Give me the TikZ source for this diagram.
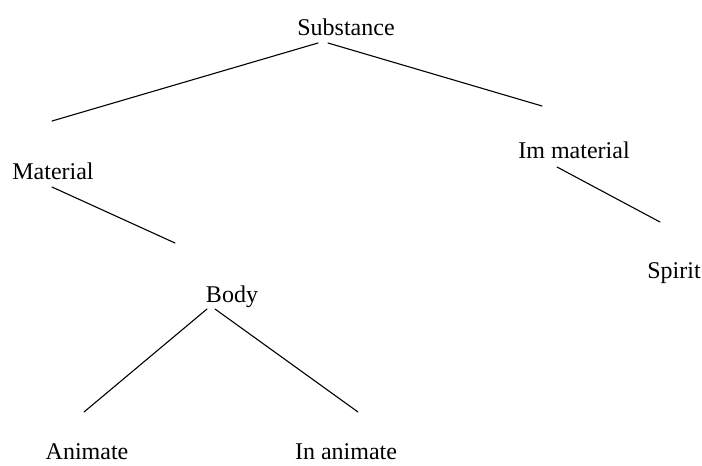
\documentclass[tikz,border=0pt]{standalone}
\usepackage{fontspec}
\setmainfont{Liberation Serif}
\begin{document}
\begin{tikzpicture}[x=1pt,y=-1pt,
  term/.style={inner sep=0pt,anchor=base,font=\fontsize{24}{27}\selectfont},
  branch/.style={line width=1.1pt,line cap=round}]
\useasboundingbox (0,0) rectangle (702,466);
% terms of the hierarchy
\node[term] (sub)  at (346,35)  {Substance};
\node[term] (mat)  at (53,179)  {Material};
\node[term] (imm)  at (574,158) {Im material};
\node[term] (spi)  at (674,278) {Spirit};
\node[term] (body) at (232,302) {Body};
\node[term] (ani)  at (87,459)  {Animate};
\node[term] (ina)  at (346,459) {In animate};
% branch end points
\coordinate (sub-l) at (318,43);
\coordinate (sub-r) at (328,43);
\coordinate (mat-t) at (52,121);
\coordinate (imm-t) at (542,106);
\coordinate (mat-b) at (52,187);
\coordinate (body-t) at (175,243);
\coordinate (imm-b) at (557,167);
\coordinate (spi-t) at (660,222);
\coordinate (body-l) at (207,309);
\coordinate (body-r) at (215,309);
\coordinate (ani-t) at (84,412);
\coordinate (ina-t) at (358,412);
% branches
\draw[branch] (sub-l) -- (mat-t);
\draw[branch] (sub-r) -- (imm-t);
\draw[branch] (mat-b) -- (body-t);
\draw[branch] (imm-b) -- (spi-t);
\draw[branch] (body-l) -- (ani-t);
\draw[branch] (body-r) -- (ina-t);
\end{tikzpicture}
\end{document}
